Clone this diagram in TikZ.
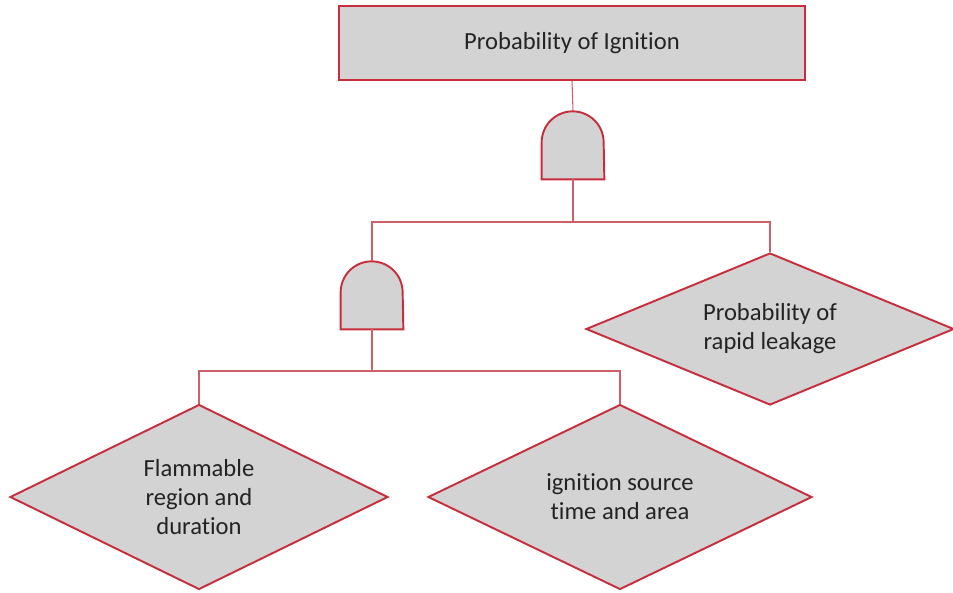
\documentclass[tikz,border=0pt]{standalone}
\usepackage{fontspec}
\setmainfont[Ligatures=NoCommon]{Carlito}
\usetikzlibrary{shapes.geometric}
\definecolor{boxfill}{RGB}{211,211,211}
\definecolor{boxline}{RGB}{200,45,60}
\definecolor{wireline}{RGB}{205,95,105}
\definecolor{textgray}{RGB}{35,35,35}

\begin{document}
\begin{tikzpicture}[x=0.02cm,y=0.02cm]
\tikzset{every node/.style={inner sep=0pt, text=textgray, font=\fontsize{14}{16.5}\selectfont, align=center}}
\tikzset{eventbox/.style={rectangle, draw=boxline, fill=boxfill, line width=1.1pt}}
\tikzset{basicevent/.style={diamond, aspect=2, draw=boxline, fill=boxfill, line width=1.1pt}}
\tikzset{gatebox/.style={rectangle, minimum width=1.24cm, minimum height=1.36cm}}
\tikzset{gateline/.style={draw=boxline, fill=boxfill, line width=1.1pt}}
\tikzset{wire/.style={draw=wireline, line width=0.6pt}}
\useasboundingbox (0,0) rectangle (953,-592);
% top event
\node [eventbox, minimum width=9.32cm, minimum height=1.48cm] (top) at (572,-43) {Probability of Ignition};
% gates
\node [gatebox] (g1) at (573,-145) {};
\draw [gateline] (g1.south west) -- ++(0,37) arc [start angle=180, end angle=0, radius=0.62cm] -- (g1.south east) -- cycle;
\node [gatebox] (g2) at (372,-295) {};
\draw [gateline] (g2.south west) -- ++(0,37) arc [start angle=180, end angle=0, radius=0.62cm] -- (g2.south east) -- cycle;
% basic events
\node [basicevent, minimum width=7.36cm, minimum height=3.04cm] (leak) at (770,-329) {Probability of\\rapid leakage};
\node [basicevent, minimum width=7.56cm, minimum height=3.7cm] (flam) at (199,-497) {Flammable\\region and\\duration};
\node [basicevent, minimum width=7.68cm, minimum height=3.7cm] (ign) at (620,-497) {ignition source\\time and area};
% junctions
\coordinate (j1) at (573,-222);
\coordinate (j2) at (372,-371);
% connectors
\draw [wire] (top.south) -- (g1.north);
\draw [wire] (g1.south) -- (j1);
\draw [wire] (g2.north) |- (j1) -| (leak.north);
\draw [wire] (g2.south) -- (j2);
\draw [wire] (flam.north) |- (j2) -| (ign.north);
\end{tikzpicture}
\end{document}
